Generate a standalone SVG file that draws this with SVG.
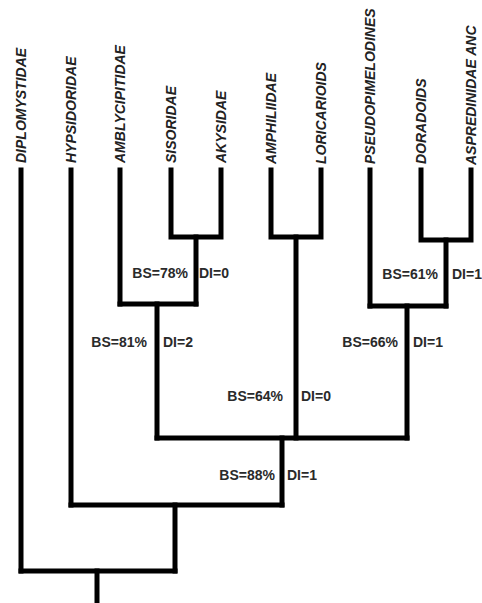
<svg xmlns="http://www.w3.org/2000/svg" width="482" height="603" viewBox="0 0 482 603">
<style>
.br{stroke:#000;stroke-width:5;fill:none;stroke-linecap:square;stroke-linejoin:miter}
.tx{font-family:"Liberation Sans",Arial,sans-serif;font-size:14px;font-style:italic;font-weight:bold;fill:#222}
.sup{font-family:"Liberation Sans",Arial,sans-serif;font-size:14px;font-weight:bold;fill:#2a2a2a}
.e{text-anchor:end}
</style>
<rect width="482" height="603" fill="#fff"/>
<g id="connectors">
<path class="br" d="M21 170 V571"/>
<path class="br" d="M71 170 V505"/>
<path class="br" d="M120 170 V304"/>
<path class="br" d="M171 170 V237 H221 V170"/>
<path class="br" d="M196 237 V304"/>
<path class="br" d="M120 304 H196"/>
<path class="br" d="M157 304 V438"/>
<path class="br" d="M271 170 V237 H321 V170"/>
<path class="br" d="M296 237 V438"/>
<path class="br" d="M370 170 V306"/>
<path class="br" d="M421 170 V240 H471 V170"/>
<path class="br" d="M446 240 V306"/>
<path class="br" d="M370 306 H446"/>
<path class="br" d="M407 306 V438"/>
<path class="br" d="M157 438 H407"/>
<path class="br" d="M282 438 V505"/>
<path class="br" d="M71 505 H282"/>
<path class="br" d="M175 505 V571"/>
<path class="br" d="M21 571 H175"/>
<path class="br" d="M97 571 V601"/>
</g>
<g id="diplomystidae"><text class="tx" transform="translate(26,163) rotate(-90)">DIPLOMYSTIDAE</text></g>
<g id="hypsidoridae"><text class="tx" transform="translate(76,163) rotate(-90)">HYPSIDORIDAE</text></g>
<g id="amblycipitidae"><text class="tx" transform="translate(125,163) rotate(-90)">AMBLYCIPITIDAE</text></g>
<g id="sisoridae"><text class="tx" transform="translate(176,163) rotate(-90)">SISORIDAE</text></g>
<g id="akysidae"><text class="tx" transform="translate(226,163) rotate(-90)">AKYSIDAE</text></g>
<g id="amphiliidae"><text class="tx" transform="translate(276,164) rotate(-90)">AMPHILIIDAE</text></g>
<g id="loricarioids"><text class="tx" transform="translate(326,164) rotate(-90)">LORICARIOIDS</text></g>
<g id="pseudopimelodines"><text class="tx" transform="translate(375,164) rotate(-90)">PSEUDOPIMELODINES</text></g>
<g id="doradoids"><text class="tx" transform="translate(426,164) rotate(-90)">DORADOIDS</text></g>
<g id="aspredinidae-anc"><text class="tx" transform="translate(476,165) rotate(-90)">ASPREDINIDAE ANC</text></g>
<g id="node-sis-aky"><text class="sup e" x="188" y="278">BS=78%</text><text class="sup" x="199" y="278">DI=0</text></g>
<g id="node-amb"><text class="sup e" x="147" y="347">BS=81%</text><text class="sup" x="163" y="347">DI=2</text></g>
<g id="node-dor-asp"><text class="sup e" x="438" y="279">BS=61%</text><text class="sup" x="452" y="279">DI=1</text></g>
<g id="node-pse"><text class="sup e" x="398" y="347">BS=66%</text><text class="sup" x="413" y="347">DI=1</text></g>
<g id="node-amp-lor"><text class="sup e" x="283" y="401">BS=64%</text><text class="sup" x="301" y="401">DI=0</text></g>
<g id="node-main"><text class="sup e" x="275" y="480">BS=88%</text><text class="sup" x="287" y="480">DI=1</text></g>
</svg>
